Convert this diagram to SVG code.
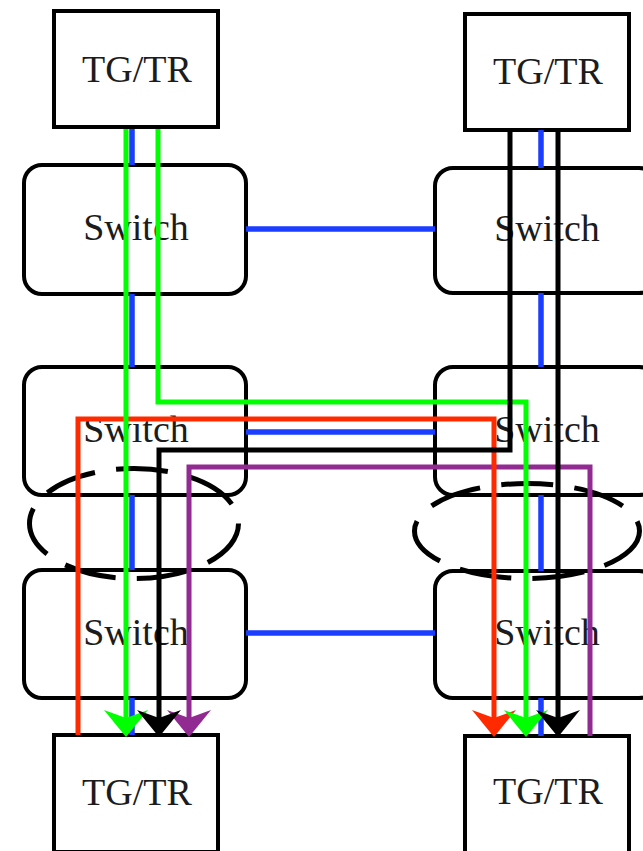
<svg xmlns="http://www.w3.org/2000/svg" width="643" height="851" viewBox="0 0 643 851">
<style>
  .box { fill: #ffffff; stroke: #000000; stroke-width: 4; }
  .lbl { font-family: "Liberation Serif", "Times New Roman", serif; font-size: 38px; fill: #1c1c1c; text-anchor: middle; }
  .blue { stroke: #1a3dff; stroke-width: 5.5; fill: none; }
  .oval { fill: none; stroke: #000000; stroke-width: 5; stroke-dasharray: 52 21.3; }
  .path { fill: none; stroke-width: 5; stroke-linejoin: miter; }
  .g { stroke: #00ff00; }
  .r { stroke: #ff2a00; }
  .k { stroke: #000000; }
  .p { stroke: #912a91; }
</style>
<defs>
  <marker id="mk-green" viewBox="0 0 27 44" refX="8" refY="22" markerWidth="27" markerHeight="44" markerUnits="userSpaceOnUse" orient="auto"><path d="M0,0 L27,22 L0,44 L8,22 Z" fill="#00ff00"/></marker>
  <marker id="mk-red" viewBox="0 0 27 44" refX="8" refY="22" markerWidth="27" markerHeight="44" markerUnits="userSpaceOnUse" orient="auto"><path d="M0,0 L27,22 L0,44 L8,22 Z" fill="#ff2a00"/></marker>
  <marker id="mk-black" viewBox="0 0 27 44" refX="8" refY="22" markerWidth="27" markerHeight="44" markerUnits="userSpaceOnUse" orient="auto"><path d="M0,0 L27,22 L0,44 L8,22 Z" fill="#000000"/></marker>
  <marker id="mk-purple" viewBox="0 0 27 44" refX="8" refY="22" markerWidth="27" markerHeight="44" markerUnits="userSpaceOnUse" orient="auto"><path d="M0,0 L27,22 L0,44 L8,22 Z" fill="#912a91"/></marker>
</defs>

<g id="nodes">
  <g id="tg-top-left"><rect class="box" x="54" y="11" width="164" height="116"/><text class="lbl" x="137" y="82">TG/TR</text></g>
  <g id="tg-top-right"><rect class="box" x="465" y="14" width="164" height="116"/><text class="lbl" x="548" y="84">TG/TR</text></g>
  <g id="sw-1-left"><rect class="box" x="24" y="165" width="222" height="129" rx="18"/><text class="lbl" x="136" y="240">Switch</text></g>
  <g id="sw-1-right"><rect class="box" x="435" y="168" width="222" height="125" rx="18"/><text class="lbl" x="547" y="241">Switch</text></g>
  <g id="sw-2-left"><rect class="box" x="24" y="367" width="222" height="128" rx="18"/><text class="lbl" x="136" y="442">Switch</text></g>
  <g id="sw-2-right"><rect class="box" x="435" y="367" width="222" height="128" rx="18"/><text class="lbl" x="547" y="442">Switch</text></g>
  <g id="sw-3-left"><rect class="box" x="24" y="570" width="222" height="128" rx="18"/><text class="lbl" x="136" y="645">Switch</text></g>
  <g id="sw-3-right"><rect class="box" x="435" y="571" width="222" height="127" rx="18"/><text class="lbl" x="547" y="645">Switch</text></g>
  <g id="tg-bottom-left"><rect class="box" x="54" y="735" width="164" height="117"/><text class="lbl" x="137" y="805">TG/TR</text></g>
  <g id="tg-bottom-right"><rect class="box" x="465" y="736" width="164" height="117"/><text class="lbl" x="548" y="804">TG/TR</text></g>
</g>

<g id="links">
  <path class="blue" d="M132,129 V165 M132,294 V367 M132,495 V570 M132,698 V735"/>
  <path class="blue" d="M541,130 V168 M541,293 V367 M541,495 V571 M541,698 V736"/>
  <path class="blue" d="M246,229 H435 M246,432 H435 M246,633 H435"/>
</g>

<g id="groups">
  <ellipse class="oval" cx="134" cy="523.5" rx="104.5" ry="55"/>
  <ellipse class="oval" cx="527" cy="531" rx="112.5" ry="47.5"/>
</g>

<g id="connectors">
  <path class="path p" d="M590,736 V467 H189 V718" marker-end="url(#mk-purple)"/>
  <path class="path r" d="M78,735 V419 H494 V718" marker-end="url(#mk-red)"/>
  <path class="path g" d="M126,129 V718" marker-end="url(#mk-green)"/>
  <path class="path g" d="M158,129 V402 H526 V718" marker-end="url(#mk-green)"/>
  <path class="path k" d="M510,131 V450 H159 V718" marker-end="url(#mk-black)"/>
  <path class="path k" d="M558,131 V718" marker-end="url(#mk-black)"/>
</g>
</svg>
